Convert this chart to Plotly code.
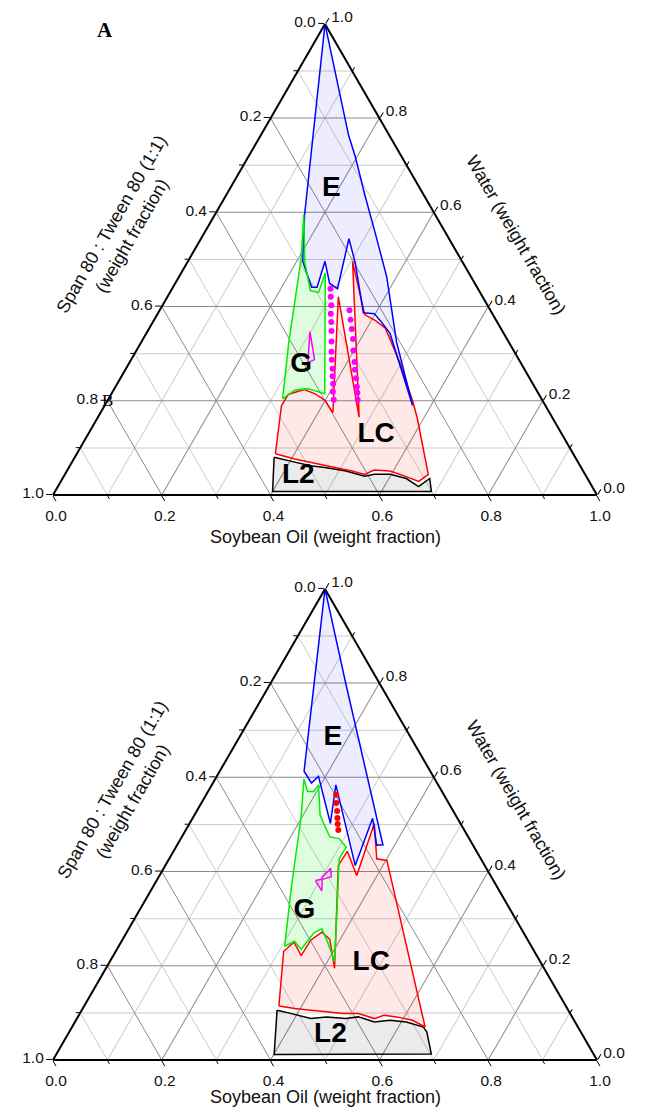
import plotly.graph_objects as go

# ---------------- axis ticks ----------------
TICK_VALUES = [0.0, 0.2, 0.4, 0.6, 0.8, 1.0]
TICK_LABELS = ["0.0", "0.2", "0.4", "0.6", "0.8", "1.0"]
MINOR_VALUES = [0.1, 0.3, 0.5, 0.7, 0.9]

# ---------------- panel A (top) ----------------
TOP_E_WATER = [1.0, 0.595, 0.496, 0.441, 0.441, 0.496, 0.449, 0.438, 0.544, 0.493, 0.387,
               0.385, 0.369, 0.343, 0.190, 0.325, 0.463, 0.551, 0.638, 0.719, 0.763]
TOP_E_OIL = [0.0, 0.165, 0.211, 0.255, 0.265, 0.252, 0.284, 0.304, 0.272, 0.309, 0.377,
             0.398, 0.418, 0.448, 0.566, 0.469, 0.382, 0.318, 0.254, 0.196, 0.162]

TOP_G_WATER = [0.596, 0.4955, 0.434, 0.430, 0.471, 0.215, 0.226, 0.2225, 0.204, 0.325, 0.500]
TOP_G_OIL = [0.163, 0.215, 0.256, 0.273, 0.265, 0.392, 0.355, 0.333, 0.320, 0.271, 0.206]

TOP_M_WATER = [0.3466, 0.2875, 0.281, 0.3466]
TOP_M_OIL = [0.299, 0.337, 0.328, 0.299]

TOP_LC_WATER = [0.0876, 0.190, 0.214, 0.224, 0.214, 0.2006, 0.175, 0.421, 0.1655, 0.4955,
                0.441, 0.383, 0.370, 0.354, 0.281, 0.2006, 0.164, 0.0438, 0.029, 0.0416,
                0.051, 0.053, 0.0438, 0.051, 0.062, 0.0766]
TOP_LC_OIL = [0.365, 0.325, 0.326, 0.350, 0.376, 0.400, 0.427, 0.314, 0.480, 0.303,
              0.341, 0.3815, 0.408, 0.434, 0.497, 0.5605, 0.5875, 0.668, 0.658, 0.622,
              0.594, 0.564, 0.551, 0.524, 0.472, 0.406]

TOP_L2_WATER = [0.080, 0.073, 0.062, 0.058, 0.051, 0.040, 0.0438, 0.0438, 0.035, 0.018,
                0.035, 0.0072, 0.0072]
TOP_L2_OIL = [0.3665, 0.396, 0.4426, 0.474, 0.513, 0.553, 0.569, 0.598, 0.632, 0.663,
              0.675, 0.692, 0.400]

TOP_DOTS1_WATER = [0.438, 0.421, 0.403, 0.385, 0.367, 0.348, 0.326, 0.304, 0.287, 0.268,
                   0.252, 0.236, 0.219, 0.202]
TOP_DOTS1_OIL = [0.291, 0.300, 0.310, 0.318, 0.328, 0.338, 0.349, 0.360, 0.369, 0.380,
                 0.388, 0.397, 0.405, 0.415]
TOP_DOTS2_WATER = [0.392, 0.372, 0.3525, 0.331, 0.3065, 0.2825, 0.266, 0.248, 0.230, 0.217, 0.202]
TOP_DOTS2_OIL = [0.349, 0.361, 0.373, 0.386, 0.399, 0.413, 0.422, 0.433, 0.4435, 0.451, 0.459]

TOP_LABELS = ["E", "G", "LC", "L2"]
TOP_LABEL_WATER = [0.649, 0.277, 0.128, 0.040]
TOP_LABEL_OIL = [0.187, 0.3175, 0.530, 0.431]

# ---------------- panel B (bottom) ----------------
BOT_E_WATER = [1.0, 0.613, 0.588, 0.602, 0.502, 0.584, 0.413, 0.513, 0.456, 0.457, 0.7986]
BOT_E_OIL = [0.0, 0.155, 0.181, 0.187, 0.259, 0.228, 0.349, 0.331, 0.367, 0.378, 0.139]

BOT_G_WATER = [0.5965, 0.570, 0.570, 0.584, 0.520, 0.4735, 0.470, 0.452, 0.427, 0.277,
               0.209, 0.2486, 0.2786, 0.270, 0.2344, 0.252, 0.2415, 0.370, 0.5136]
BOT_G_OIL = [0.163, 0.183, 0.1946, 0.196, 0.231, 0.272, 0.291, 0.313, 0.3126, 0.382,
             0.413, 0.381, 0.355, 0.3446, 0.339, 0.318, 0.305, 0.2535, 0.199]

BOT_M_WATER = [0.381, 0.359, 0.388, 0.407, 0.389, 0.384, 0.381]
BOT_M_OIL = [0.292, 0.3146, 0.301, 0.307, 0.317, 0.3047, 0.292]

BOT_LC_WATER = [0.1144, 0.2308, 0.250, 0.2216, 0.2543, 0.2715, 0.2558, 0.195, 0.413, 0.443,
                0.3915, 0.502, 0.427, 0.4236, 0.070, 0.0844, 0.0915, 0.0951, 0.0879, 0.0986,
                0.0986, 0.1022, 0.1058, 0.1093]
BOT_LC_OIL = [0.358, 0.3086, 0.318, 0.3454, 0.3465, 0.3584, 0.381, 0.420, 0.318, 0.3195,
              0.3626, 0.3396, 0.3816, 0.402, 0.649, 0.6186, 0.5858, 0.5607, 0.547, 0.512,
              0.483, 0.452, 0.4207, 0.390]

BOT_L2_WATER = [0.1058, 0.100, 0.0879, 0.0915, 0.0879, 0.0915, 0.0808, 0.0844, 0.0808,
                0.070, 0.0594, 0.0129, 0.0116]
BOT_L2_OIL = [0.359, 0.383, 0.430, 0.457, 0.494, 0.5156, 0.5504, 0.5775, 0.609,
              0.646, 0.6575, 0.689, 0.4007]

BOT_DOTS_WATER = [0.563, 0.5457, 0.5286, 0.5136, 0.5008, 0.488]
BOT_DOTS_OIL = [0.239, 0.248, 0.258, 0.266, 0.273, 0.2805]

BOT_LABELS = ["E", "G", "LC", "L2"]
BOT_LABEL_WATER = [0.684, 0.3165, 0.206, 0.052]
BOT_LABEL_OIL = [0.1725, 0.304, 0.482, 0.484]

# ---------------- styling ----------------
FONT = "Liberation Sans, Arial, sans-serif"
SERIF = "Liberation Serif, Times New Roman, serif"
BLUE, GREEN, RED, MAGENTA, BLACK = "#0000ff", "#00ee00", "#ff0000", "#ff00ff", "#000000"


def supports_pattern():
    try:
        go.Scatterternary(fillpattern=dict(shape="/"))
        return True
    except Exception:
        return False


PATTERN = supports_pattern()


def surf(water, oil):
    return [round(1 - w - o, 4) for w, o in zip(water, oil)]


def region(water, oil, color, shape, tint, subplot, closed=True):
    if closed:
        water = list(water) + [water[0]]
        oil = list(oil) + [oil[0]]
    kw = dict(a=water, b=surf(water, oil), c=oil, mode="lines",
              line=dict(color=color, width=1.5), subplot=subplot,
              hoverinfo="skip", showlegend=False)
    if closed:
        kw["fill"] = "toself"
        if PATTERN and shape:
            kw["fillpattern"] = dict(shape=shape, fgcolor=color, bgcolor="rgba(0,0,0,0)",
                                     size=9, solidity=0.08, fillmode="overlay")
            kw["fillcolor"] = "rgba(0,0,0,0)"
        else:
            kw["fillcolor"] = tint
    return go.Scatterternary(**kw)


def dots(water, oil, color, subplot, size=6):
    return go.Scatterternary(a=water, b=surf(water, oil), c=oil, mode="markers",
                             marker=dict(color=color, size=size, line=dict(width=0)),
                             subplot=subplot, hoverinfo="skip", showlegend=False)


def labels(texts, water, oil, subplot):
    return go.Scatterternary(a=water, b=surf(water, oil), c=oil, mode="text", text=texts,
                             textfont=dict(family=FONT, size=28, color="black", weight="bold"),
                             textposition="middle center", subplot=subplot,
                             hoverinfo="skip", showlegend=False)


def anchor(subplot):
    return go.Scatterternary(a=[1], b=[0], c=[0], mode="markers",
                             marker=dict(size=1, opacity=0), subplot=subplot,
                             hoverinfo="skip", showlegend=False)


fig = go.Figure()

# panel A
fig.add_trace(anchor("ternary"))
fig.add_trace(region(TOP_L2_WATER, TOP_L2_OIL, BLACK, "/", "rgba(0,0,0,0.08)", "ternary2"))
fig.add_trace(region(TOP_LC_WATER, TOP_LC_OIL, RED, "\\", "rgba(255,0,0,0.09)", "ternary2"))
fig.add_trace(region(TOP_E_WATER, TOP_E_OIL, BLUE, "|", "rgba(0,0,255,0.07)", "ternary2"))
fig.add_trace(region(TOP_G_WATER, TOP_G_OIL, GREEN, "x", "rgba(0,230,0,0.13)", "ternary2"))
fig.add_trace(region(TOP_M_WATER, TOP_M_OIL, MAGENTA, None, None, "ternary2", closed=False))
fig.add_trace(dots(TOP_DOTS1_WATER, TOP_DOTS1_OIL, MAGENTA, "ternary2"))
fig.add_trace(dots(TOP_DOTS2_WATER, TOP_DOTS2_OIL, MAGENTA, "ternary2"))
fig.add_trace(labels(TOP_LABELS, TOP_LABEL_WATER, TOP_LABEL_OIL, "ternary2"))

# panel B
fig.add_trace(anchor("ternary3"))
fig.add_trace(region(BOT_L2_WATER, BOT_L2_OIL, BLACK, "/", "rgba(0,0,0,0.08)", "ternary4"))
fig.add_trace(region(BOT_LC_WATER, BOT_LC_OIL, RED, "\\", "rgba(255,0,0,0.09)", "ternary4"))
fig.add_trace(region(BOT_E_WATER, BOT_E_OIL, BLUE, "|", "rgba(0,0,255,0.07)", "ternary4"))
fig.add_trace(region(BOT_G_WATER, BOT_G_OIL, GREEN, "x", "rgba(0,230,0,0.13)", "ternary4"))
fig.add_trace(region(BOT_M_WATER, BOT_M_OIL, MAGENTA, None, None, "ternary4", closed=False))
fig.add_trace(dots(BOT_DOTS_WATER, BOT_DOTS_OIL, RED, "ternary4"))
fig.add_trace(labels(BOT_LABELS, BOT_LABEL_WATER, BOT_LABEL_OIL, "ternary4"))


def major_axis():
    return dict(tickmode="array", tickvals=[round(1 - v, 2) for v in TICK_VALUES],
                ticktext=TICK_LABELS, ticks="outside", ticklen=6, tickwidth=1.2,
                tickcolor="black", showgrid=True, gridcolor="#8a8a8a", gridwidth=1,
                showline=True, linecolor="black", linewidth=2, layer="below traces",
                tickfont=dict(family=FONT, size=15.5, color="#111"), title=dict(text=""))


def minor_axis():
    return dict(tickmode="array", tickvals=MINOR_VALUES, ticks="outside", ticklen=4,
                tickwidth=1, tickcolor="black", showgrid=True, gridcolor="#cccccc",
                gridwidth=1, showline=False, showticklabels=False, title=dict(text=""))


# The page body has an 8 px margin, so the figure is sized to the window minus it
# and every window-pixel position below is shifted by that margin.
WIN_W, WIN_H, BODY = 649, 1113, 8
FIG_W, FIG_H = WIN_W - BODY, WIN_H - BODY
X0, X1 = 53, 597
TOP_Y = (23.9, 495.0)
BOT_Y = (588.9, 1060.0)


def px(x, y):
    return (x - BODY) / FIG_W, (FIG_H - (y - BODY)) / FIG_H


def dom(yrange):
    xa, yb = px(X0, yrange[1])
    xb, ya = px(X1, yrange[0])
    return dict(x=[xa, xb], y=[yb, ya])


def tern(yrange, major):
    ax = major_axis if major else minor_axis
    return dict(domain=dom(yrange), sum=1,
                bgcolor="rgba(0,0,0,0)" if major else "white",
                aaxis=ax(), baxis=ax(), caxis=ax())


annotations = []
LEFT_TITLE = "Span 80 : Tween 80 (1:1)<br>(weight fraction)"
RIGHT_TITLE = "Water (weight fraction)"
BOTTOM_TITLE = "Soybean Oil (weight fraction)"
for dy, ybot in ((0, 537), (565, 1097)):
    for (x, y), txt, ang in [((122, 230 + dy), LEFT_TITLE, -60),
                             ((516, 235 + dy), RIGHT_TITLE, 60),
                             ((325, ybot), BOTTOM_TITLE, 0)]:
        ax_, ay_ = px(x, y)
        annotations.append(dict(x=ax_, y=ay_, xref="paper", yref="paper", text=txt,
                                textangle=ang, showarrow=False, xanchor="center",
                                yanchor="middle", font=dict(family=FONT, size=18, color="#111")))

ax_, ay_ = px(105, 30)
annotations.append(dict(x=ax_, y=ay_, xref="paper", yref="paper", text="<b>A</b>",
                        showarrow=False, xanchor="center", yanchor="middle",
                        font=dict(family=SERIF, size=21, color="black")))
ax_, ay_ = px(107, 401)
annotations.append(dict(x=ax_, y=ay_, xref="paper", yref="paper", text="B",
                        showarrow=False, xanchor="center", yanchor="middle",
                        font=dict(family=SERIF, size=17, color="black")))

fig.update_layout(
    width=FIG_W, height=FIG_H, margin=dict(l=0, r=0, t=0, b=0),
    paper_bgcolor="white", plot_bgcolor="white", showlegend=False,
    ternary=tern(TOP_Y, False), ternary2=tern(TOP_Y, True),
    ternary3=tern(BOT_Y, False), ternary4=tern(BOT_Y, True),
    annotations=annotations,
)

fig.write_html("out.html")
